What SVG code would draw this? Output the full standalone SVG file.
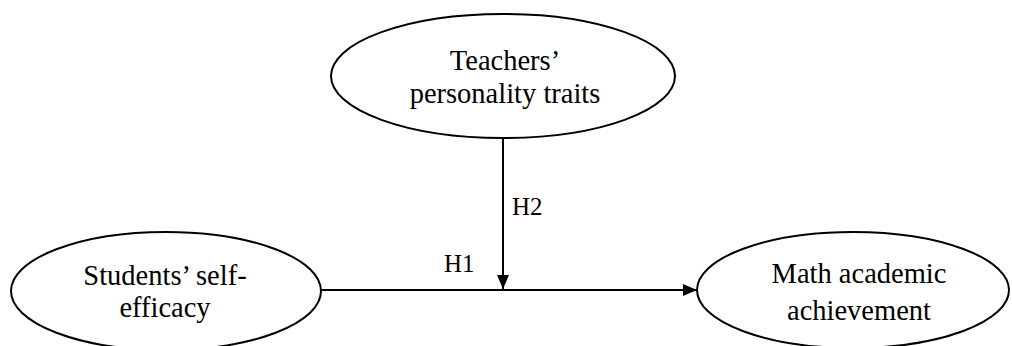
<svg xmlns="http://www.w3.org/2000/svg" width="1012" height="346" viewBox="0 0 1012 346">
<style>
.node ellipse{fill:#fff;stroke:#000;stroke-width:2}
.t{font-family:"Liberation Serif","Times New Roman",serif;font-size:28.5px;fill:#000;text-anchor:middle}
.lbl{font-family:"Liberation Serif","Times New Roman",serif;font-size:25px;fill:#000}
.edge{stroke:#000;stroke-width:2;fill:none;marker-end:url(#arr)}
</style>
<defs>
<marker id="arr" viewBox="0 0 14 12" refX="14" refY="6" markerWidth="14" markerHeight="12" markerUnits="userSpaceOnUse" orient="auto">
<path d="M0,0 L14,6 L0,12 Z" fill="#000"/>
</marker>
<clipPath id="clipTop"><rect x="0" y="0" width="1012" height="110"/></clipPath>
</defs>
<rect width="1012" height="346" fill="#fff"/>
<g id="teachers" class="node">
<ellipse cx="503" cy="76" rx="172" ry="62"/>
<g clip-path="url(#clipTop)">
<text class="t" x="505" y="70">Teachers’</text>
<text class="t" x="505" y="103">personality traits</text>
</g>
</g>
<g id="students" class="node">
<ellipse cx="166" cy="291" rx="155" ry="59"/>
<text class="t" x="165" y="285">Students’ self-</text>
<text class="t" x="165" y="317">efficacy</text>
</g>
<g id="math" class="node">
<ellipse cx="853" cy="290" rx="156" ry="58"/>
<text class="t" x="859" y="283">Math academic</text>
<text class="t" x="859" y="320">achievement</text>
</g>
<g id="connectors">
<line class="edge" x1="321" y1="290" x2="697" y2="290"/>
<line class="edge" x1="503" y1="138" x2="503" y2="289"/>
<text class="lbl" x="512" y="215">H2</text>
<text class="lbl" x="444" y="272">H1</text>
</g>
</svg>
